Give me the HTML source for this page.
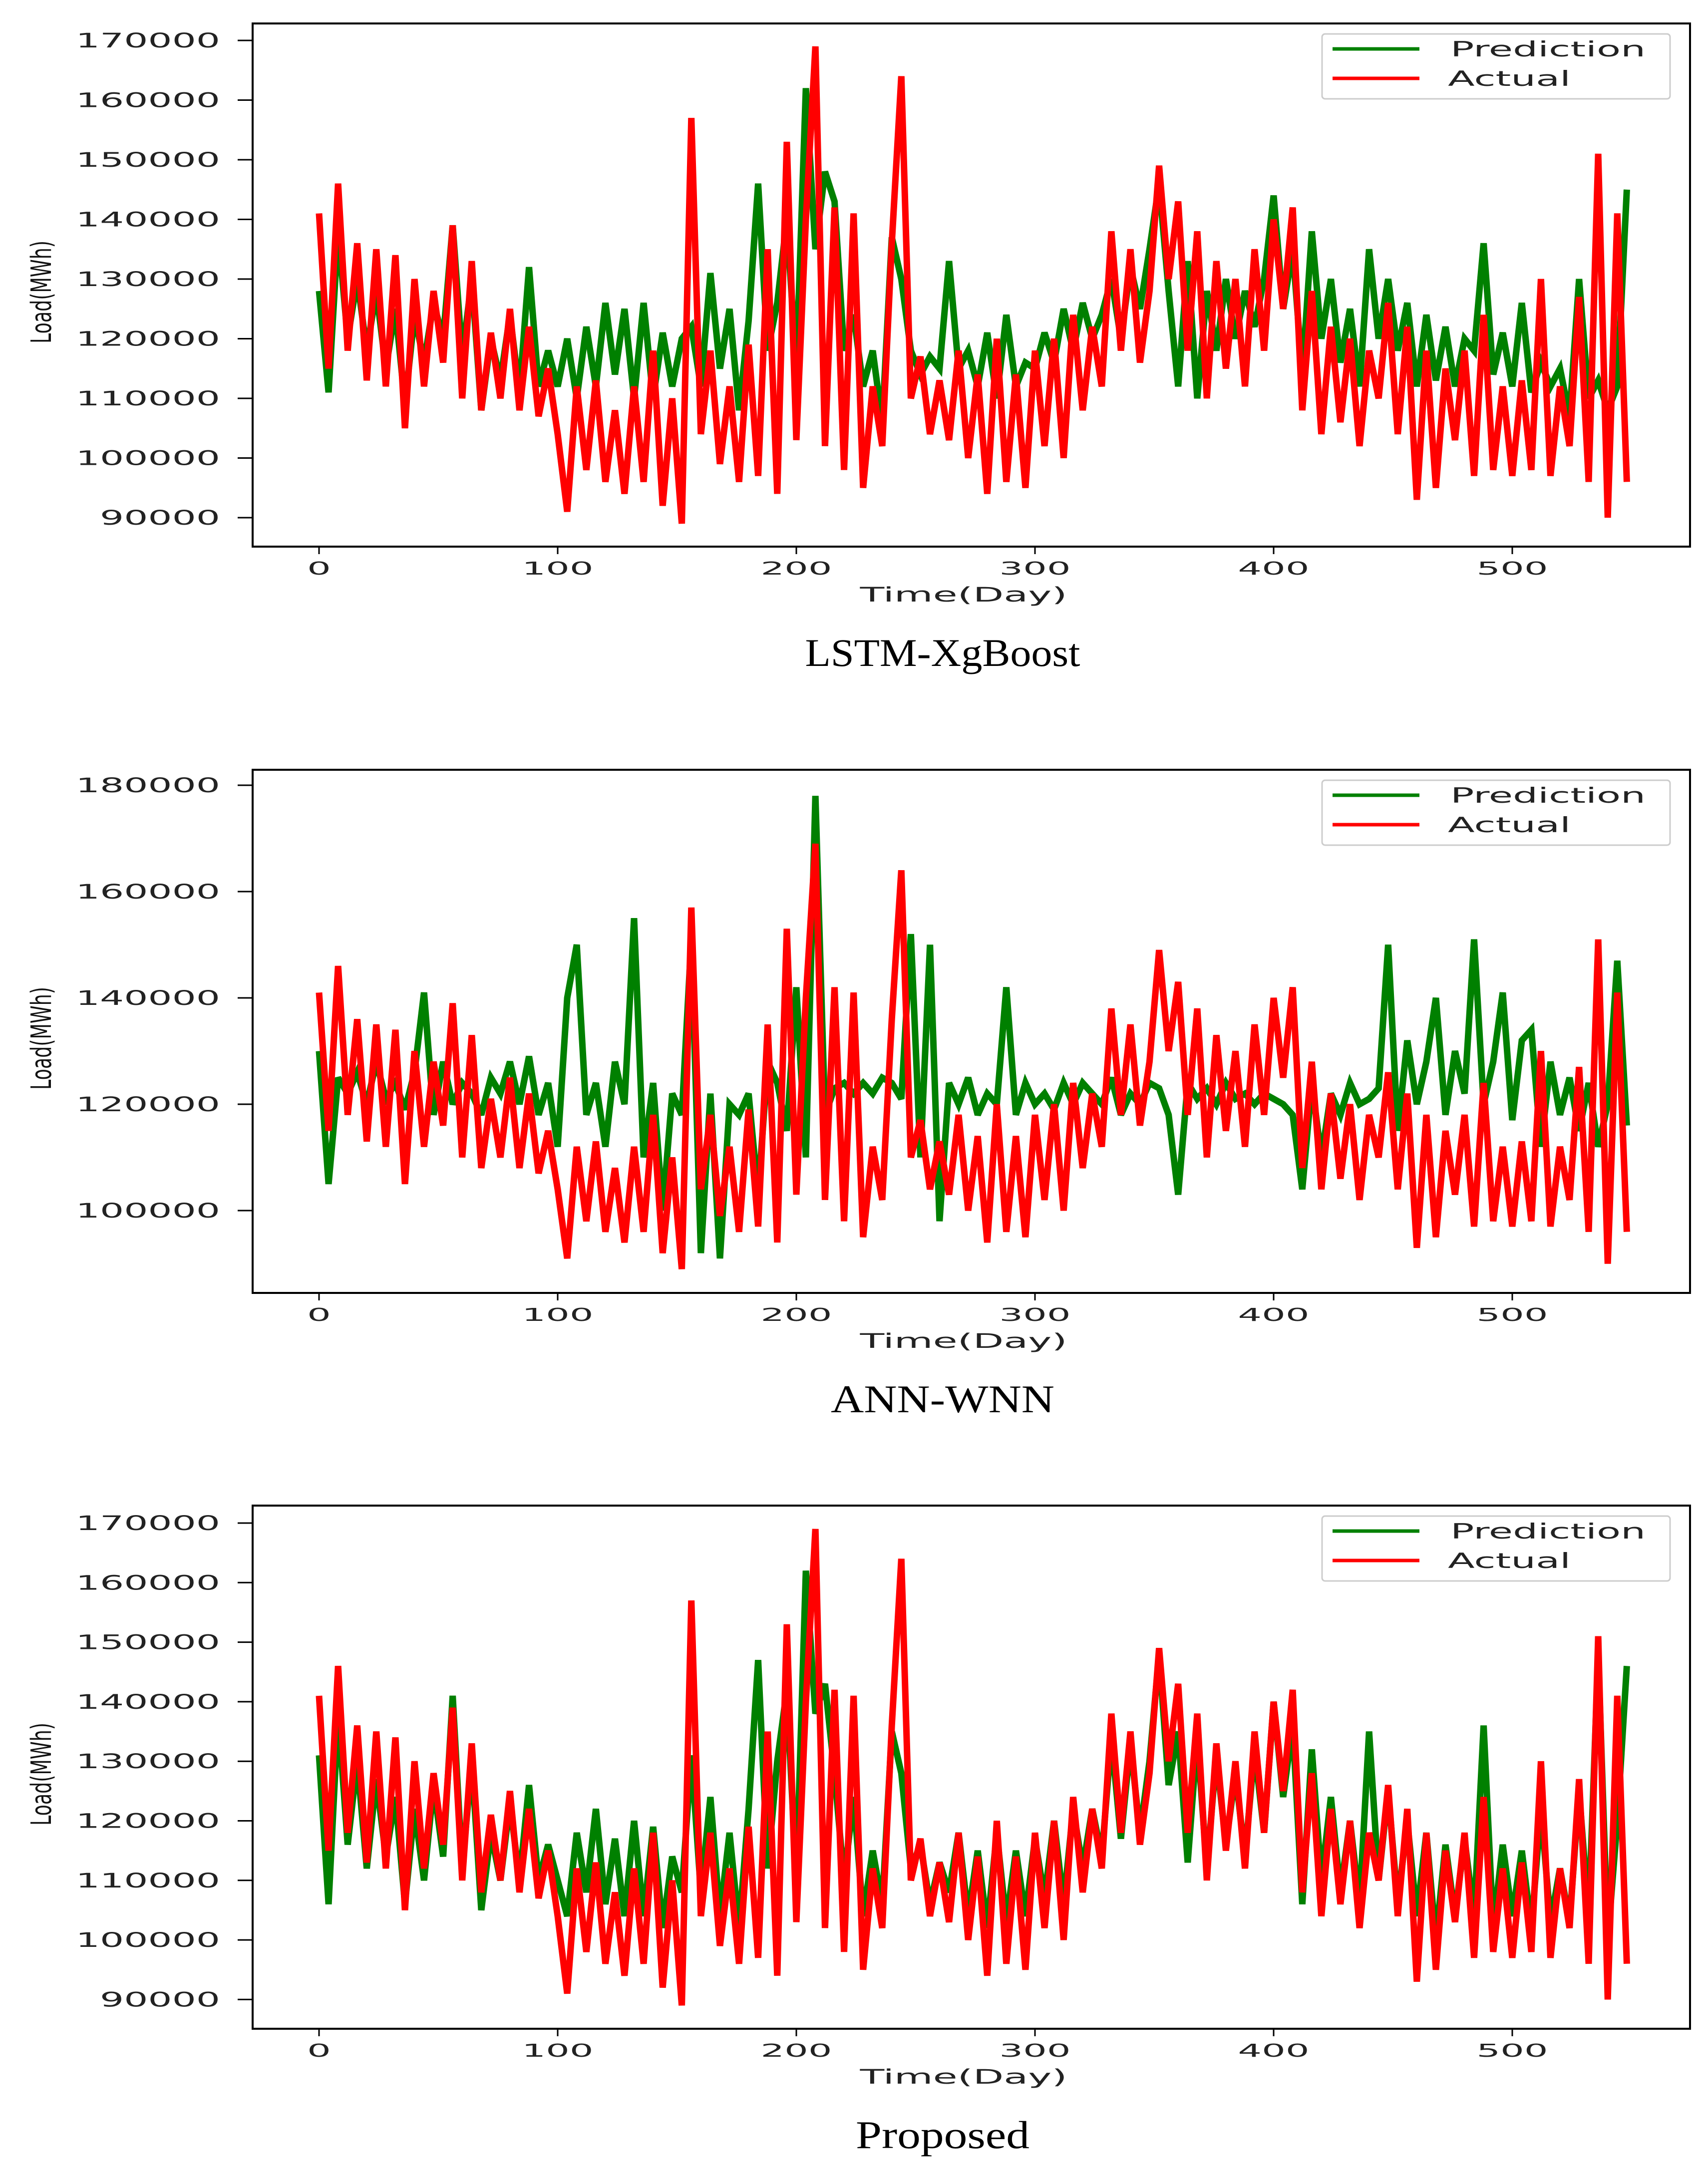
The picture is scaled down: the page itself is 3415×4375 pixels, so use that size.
<!DOCTYPE html>
<html><head><meta charset="utf-8">
<style>html,body{margin:0;padding:0;background:#fff}svg{display:block}</style>
</head><body>
<svg id="fig" xmlns="http://www.w3.org/2000/svg" width="3415" height="4375" viewBox="0 0 3415 4375"></svg>
<script>
const NS="http://www.w3.org/2000/svg";
const step=4;
const xTicks=[0,100,200,300,400,500];
const actual=[141,115,146,118,136,113,135,112,134,105,130,112,128,116,139,110,133,108,121,110,125,108,122,107,115,104,91,112,98,113,96,108,94,112,96,118,92,110,89,157,104,118,99,112,96,119,97,135,94,153,103,140,169,102,142,98,141,95,112,102,136,164,110,117,104,113,103,118,100,114,94,120,96,114,95,118,102,120,100,124,108,122,112,138,118,135,116,128,149,130,143,118,138,110,133,115,130,112,135,118,140,125,142,108,128,104,122,106,120,102,118,110,126,104,122,93,118,95,115,103,118,97,124,98,112,97,113,98,130,97,112,102,127,96,151,90,141,96];
const predLSTM=[128,111,138,120,130,118,128,115,125,109,124,116,126,120,139,117,130,108,120,113,124,111,132,112,118,112,120,110,122,112,126,114,125,110,126,110,121,112,120,122,112,131,115,125,108,123,146,118,126,140,115,162,135,148,143,118,124,112,118,106,137,130,118,114,117,115,133,115,118,112,121,110,124,112,116,115,121,116,125,118,126,120,124,130,120,132,125,135,146,128,112,133,110,128,118,130,120,128,122,130,144,125,135,114,138,120,130,116,125,112,135,120,130,118,126,112,124,113,122,112,120,118,136,114,121,112,126,111,116,112,115,107,130,110,113,108,112,145];
const predANN=[130,105,125,122,126,120,128,121,124,119,126,141,118,128,120,124,122,118,125,122,128,120,129,118,124,112,140,150,118,124,112,128,120,155,110,124,100,122,118,151,92,122,91,120,118,122,103,128,124,115,142,110,178,118,123,124,122,124,122,125,124,121,152,110,150,98,124,120,125,118,122,120,142,118,124,120,122,119,124,120,124,122,120,125,118,122,120,124,123,118,103,124,121,123,120,124,121,122,120,122,121,120,118,104,124,110,122,118,124,120,121,123,150,115,132,120,128,140,118,130,122,151,120,128,141,117,132,134,112,128,118,125,115,124,112,120,147,116];
const predProp=[131,106,138,116,130,112,127,114,124,106,122,110,126,114,141,112,130,105,118,110,123,110,126,110,116,110,104,118,108,122,106,117,104,120,104,119,102,114,108,131,108,124,104,118,102,122,147,112,130,142,110,162,138,143,128,110,124,104,115,106,135,128,112,116,106,113,108,118,104,115,102,118,103,115,104,117,107,120,106,122,112,122,114,134,117,133,118,130,148,126,135,113,134,112,131,116,128,114,132,118,140,124,136,106,132,110,124,108,120,106,135,110,125,106,120,104,118,100,116,104,117,104,136,102,116,104,115,102,122,103,112,103,125,104,148,100,120,146];
const yTicks1=[90,100,110,120,130,140,150,160,170];
const yTicks2=[100,120,140,160,180];

const svg=document.getElementById('fig');
function mk(tag,attrs,parent){const e=document.createElementNS(NS,tag);for(const k in attrs)e.setAttribute(k,attrs[k]);(parent||svg).appendChild(e);return e;}

function panel(top,topVal,topPx,perUnit,yTicks,pred,title,titleW,key){
  const L=506,R=3385,T=top,B=top+1048;
  const g=mk('g',{});
  
  
  const xs=d=>639+4.78*d;
  const ys=v=>top+topPx+(topVal-v)*perUnit;
  const clip=mk('clipPath',{id:'c'+key},g);
  mk('rect',{x:L,y:T,width:R-L,height:B-T},clip);
  yTicks.forEach(v=>{
    const y=ys(v);
    const t=mk('line',{x1:L-30,x2:L,y1:y,y2:y,stroke:'#000','stroke-width':3},g);
    
    
    const s=String(v*1000);
    const tx=mk('text',{x:441,y:y+14,'text-anchor':'end','font-family':'DejaVu Sans, Liberation Sans, sans-serif','font-size':40,fill:'#222',textLength:s.length*48.2,lengthAdjust:'spacingAndGlyphs'},g);
    tx.textContent=s;
    
    
  });
  xTicks.forEach(d=>{
    const x=xs(d);
    const t=mk('line',{x1:x,x2:x,y1:B,y2:B+15,stroke:'#000','stroke-width':3},g);
    
    
    const s=String(d);
    const tx=mk('text',{x:x,y:B+56,'text-anchor':'middle','font-family':'DejaVu Sans, Liberation Sans, sans-serif','font-size':36,fill:'#222',textLength:s.length*47.7,lengthAdjust:'spacingAndGlyphs'},g);
    tx.textContent=s;
    
    
  });
  const line=(arr,col,name)=>{
    const pts=arr.map((v,i)=>xs(i*step).toFixed(1)+','+ys(v).toFixed(1)).join(' ');
    const p=mk('polyline',{points:pts,fill:'none',stroke:col,'stroke-width':13,'stroke-linejoin':'miter','stroke-miterlimit':3,'clip-path':'url(#c'+key+')'},g);
    
    
  };
  line(pred,'#008000','prediction-line');
  line(actual,'#ff0000','actual-line');
  const box=mk('rect',{x:L,y:T,width:R-L,height:B-T,fill:'none',stroke:'#000','stroke-width':4},g);
  
  
  const lg=mk('g',{},g);
  
  
  mk('rect',{x:2648,y:T+21,width:697,height:130,rx:6,fill:'#fff','fill-opacity':0.85,stroke:'#ccc','stroke-width':3},lg);
  mk('line',{x1:2669,x2:2843,y1:T+51,y2:T+51,stroke:'#008000','stroke-width':7},lg);
  mk('line',{x1:2669,x2:2843,y1:T+110,y2:T+110,stroke:'#ff0000','stroke-width':7},lg);
  const l1=mk('text',{x:2905,y:T+66,'font-family':'DejaVu Sans, Liberation Sans, sans-serif','font-size':42,fill:'#222',textLength:391,lengthAdjust:'spacingAndGlyphs'},lg);
  l1.textContent='Prediction';
  
  
  const l2=mk('text',{x:2900,y:T+125,'font-family':'DejaVu Sans, Liberation Sans, sans-serif','font-size':42,fill:'#222',textLength:246,lengthAdjust:'spacingAndGlyphs'},lg);
  l2.textContent='Actual';
  
  
  const yl=mk('text',{x:0,y:0,transform:'translate(102,'+(T+538)+') rotate(-90)','text-anchor':'middle','font-family':'DejaVu Sans, Liberation Sans, sans-serif','font-size':56,fill:'#111',textLength:206,lengthAdjust:'spacingAndGlyphs'},g);
  yl.textContent='Load(MWh)';
  
  
  const xl=mk('text',{x:1930,y:B+110,'text-anchor':'middle','font-family':'DejaVu Sans, Liberation Sans, sans-serif','font-size':40,fill:'#222',textLength:415,lengthAdjust:'spacingAndGlyphs'},g);
  xl.textContent='Time(Day)';
  
  
  const tt=mk('text',{x:1888,y:T+1287,'text-anchor':'middle','font-family':'Liberation Serif, serif','font-size':78,fill:'#000',textLength:titleW,lengthAdjust:'spacingAndGlyphs'},g);
  tt.textContent=title;
  
  
}
panel(47,170,34,11.95,yTicks1,predLSTM,'LSTM-XgBoost',551,'lstm');
panel(1542,180,31,10.65,yTicks2,predANN,'ANN-WNN',448,'ann');
panel(3016,170,35,11.93,yTicks1,predProp,'Proposed',348,'proposed');
</script>
</body></html>
